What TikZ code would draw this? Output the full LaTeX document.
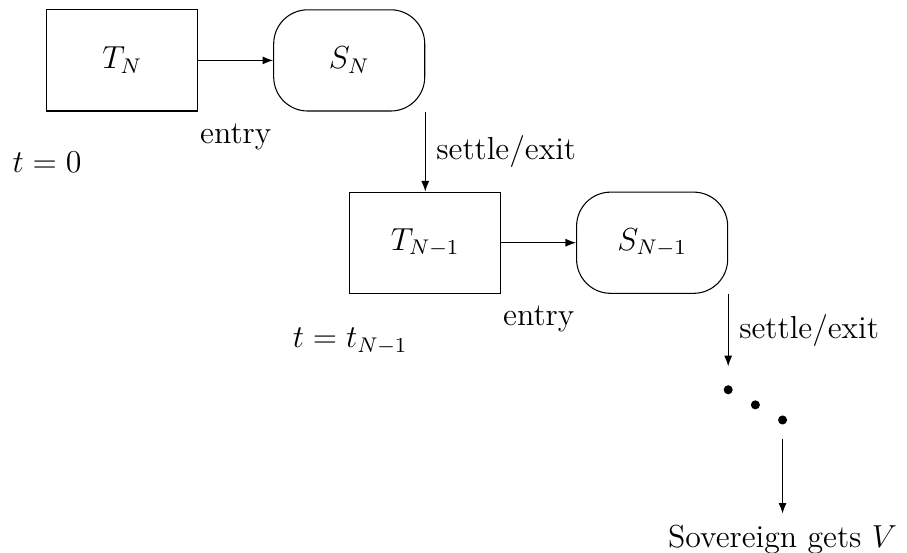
\documentclass[12pt,tikz,border=0pt]{standalone}
\usetikzlibrary{arrows.meta, positioning, calc}
\tikzset{
  tbox/.style={draw, minimum width=2cm, minimum height=1.34cm},
  sbox/.style={draw, rounded corners=0.45cm, minimum width=2cm, minimum height=1.34cm},
  flow/.style={-{Latex[length=4pt, width=3pt]}},
}
\begin{document}
\begin{tikzpicture}
  \useasboundingbox (0,0) rectangle (12.01,-7.31);
  % first stage
  \node[tbox] (tN) at (1.62,-0.80) {$T_N$};
  \node[sbox, right=0.99cm of tN] (sN) {$S_N$};
  \draw[flow] (tN) -- (sN);
  \node (entryA) at ($(tN.south east)!0.5!(sN.south west)+(0,-0.33)$) {entry};
  \node[anchor=base west, inner sep=0pt] (timeA) at (0.16,-2.28) {$t=0$};
  % second stage
  \node[tbox, below=1.06cm of sN.south east] (tM) {$T_{N-1}$};
  \node[sbox, right=0.99cm of tM] (sM) {$S_{N-1}$};
  \draw[flow] (sN.south east) -- node[right] {settle/exit} (tM.north);
  \draw[flow] (tM) -- (sM);
  \node (entryB) at ($(tM.south east)!0.5!(sM.south west)+(0,-0.33)$) {entry};
  \node[anchor=base west, inner sep=0pt] (timeB) at (3.87,-4.60) {$t=t_{N-1}$};
  % dots and the end
  \coordinate (exitB) at ($(sM.south east)+(0,-0.96)$);
  \draw[flow] (sM.south east) -- node[right] {settle/exit} (exitB);
  \coordinate (dotA) at ($(sM.south east)+(0,-1.27)$);
  \coordinate (dotB) at ($(dotA)+(0.36,-0.2)$);
  \coordinate (dotC) at ($(dotB)+(0.36,-0.2)$);
  \foreach \d in {dotA,dotB,dotC} \fill (\d) circle (0.06);
  \coordinate (endA) at ($(dotC)+(0,-0.25)$);
  \node[below] (sov) at ($(dotC)+(0,-1.24)$) {Sovereign gets $V$};
  \draw[flow] (endA) -- (sov);
\end{tikzpicture}
\end{document}
